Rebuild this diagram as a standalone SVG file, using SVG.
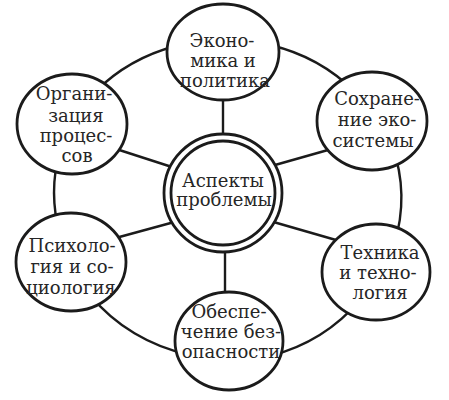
<svg xmlns="http://www.w3.org/2000/svg" width="449" height="400" viewBox="0 0 449 400">
<style>
.edge{fill:none;stroke:#1b1b1b;stroke-width:2.4}
.node{fill:#fff;stroke:#1b1b1b;stroke-width:2.8}
.t{font-family:"DejaVu Serif","Liberation Serif",serif;font-size:18px;fill:#262626;text-anchor:middle}
</style>
<rect width="449" height="400" fill="#fff"/>
<g id="connectors">
<path class="edge" d="M270 45 A174 165 0 0 1 355 92"/>
<path class="edge" d="M176 46 A174 165 0 0 0 95 92"/>
<path class="edge" d="M60 150 A174 165 0 0 0 60 235"/>
<path class="edge" d="M392 145 A174 165 0 0 1 394 245"/>
<path class="edge" d="M90 295 A174 165 0 0 0 190 355"/>
<path class="edge" d="M360 300 A174 165 0 0 1 270 356"/>
<line class="edge" x1="223" y1="95" x2="223" y2="140"/>
<line class="edge" x1="225" y1="248" x2="225" y2="298"/>
<line class="edge" x1="110" y1="147" x2="175" y2="168"/>
<line class="edge" x1="275" y1="165" x2="328" y2="150"/>
<line class="edge" x1="112" y1="239" x2="178" y2="221"/>
<line class="edge" x1="270" y1="221" x2="336" y2="240"/>
</g>
<g id="center">
<ellipse class="node" cx="223" cy="193" rx="59" ry="59"/>
<ellipse class="node" cx="223" cy="193" rx="52" ry="52"/>
<text class="t" x="223" y="187">Аспекты</text>
<text class="t" x="224" y="206">проблемы</text>
</g>
<g id="economy">
<ellipse class="node" cx="223" cy="52" rx="56" ry="48"/>
<text class="t" x="222" y="47">Эконо-</text>
<text class="t" x="223" y="67">мика и</text>
<text class="t" x="225" y="87">политика</text>
</g>
<g id="organization">
<ellipse class="node" cx="72" cy="124" rx="55" ry="50"/>
<text class="t" x="74" y="100">Органи-</text>
<text class="t" x="76" y="122">зация</text>
<text class="t" x="76" y="142">процес-</text>
<text class="t" x="77" y="162">сов</text>
</g>
<g id="ecosystem">
<ellipse class="node" cx="372" cy="121" rx="55" ry="49"/>
<text class="t" x="377" y="105">Сохране-</text>
<text class="t" x="377" y="126">ние эко-</text>
<text class="t" x="373" y="147">системы</text>
</g>
<g id="psychology">
<ellipse class="node" cx="71" cy="262" rx="55" ry="49"/>
<text class="t" x="72" y="252">Психоло-</text>
<text class="t" x="72" y="273">гия и со-</text>
<text class="t" x="71" y="294">циология</text>
</g>
<g id="technology">
<ellipse class="node" cx="376" cy="272" rx="54" ry="48"/>
<text class="t" x="380" y="259">Техника</text>
<text class="t" x="378" y="279">и техно-</text>
<text class="t" x="380" y="299">логия</text>
</g>
<g id="security">
<ellipse class="node" cx="229" cy="341" rx="54" ry="49"/>
<text class="t" x="229" y="318">Обеспе-</text>
<text class="t" x="231" y="338">чение без-</text>
<text class="t" x="231" y="358">опасности</text>
</g>
</svg>
